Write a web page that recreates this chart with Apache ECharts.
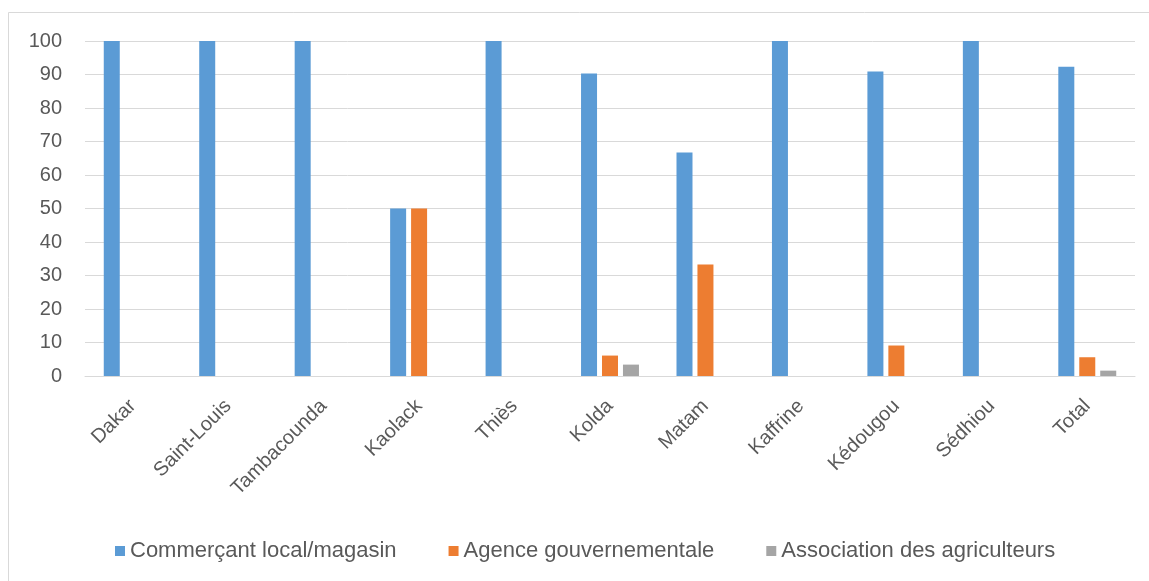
<!DOCTYPE html>
<html>
<head>
<meta charset="utf-8">
<script src="https://cdn.jsdelivr.net/npm/echarts@6/dist/echarts.min.js"></script>
<style>
html,body{margin:0;padding:0;background:#fff;}
#chart{width:1149px;height:581px;}
</style>
</head>
<body>
<div id="chart"></div>
<script>
const categories = ["Dakar","Saint-Louis","Tambacounda","Kaolack","Thiès","Kolda","Matam","Kaffrine","Kédougou","Sédhiou","Total"];
const commercant = [100,100,100,50,100,90.3,66.7,100,90.9,100,92.3];
const agence = [0,0,0,50,0,6.1,33.3,0,9.1,0,5.6];
const association = [0,0,0,0,0,3.4,0,0,0,0,1.6];
const yTicks = {min:0,max:100,interval:10};

const font = "'Liberation Sans', Arial, sans-serif";
const chart = echarts.init(document.getElementById('chart'), null, {renderer:'canvas'});
chart.setOption({
  animation:false,
  backgroundColor:'#ffffff',
  textStyle:{fontFamily:font},
  graphic:[{type:'rect',shape:{x:8.5,y:12.5,width:1200,height:700},style:{fill:null,stroke:'#d9d9d9',lineWidth:1},silent:true,z:-1}],
  grid:{left:85,right:14,top:41,bottom:205,containLabel:false},
  legend:{
    bottom:14,left:110,
    itemWidth:10,itemHeight:10,itemGap:52,
    icon:'rect',
    textStyle:{color:'#595959',fontSize:22,fontFamily:font},
    data:["Commerçant local/magasin","Agence gouvernementale","Association des agriculteurs"]
  },
  xAxis:{
    type:'category',data:categories,
    axisLine:{lineStyle:{color:'#d9d9d9',width:1}},
    axisTick:{show:false},
    axisLabel:{rotate:45,color:'#595959',fontSize:20,fontFamily:font,margin:27,interval:0}
  },
  yAxis:{
    type:'value',min:yTicks.min,max:yTicks.max,interval:yTicks.interval,
    axisLine:{show:false},axisTick:{show:false},
    splitLine:{lineStyle:{color:'#d9d9d9',width:1}},
    axisLabel:{color:'#595959',fontSize:20,fontFamily:font,margin:23}
  },
  series:[
    {name:"Commerçant local/magasin",type:'bar',data:commercant,barWidth:16,barGap:'31%',itemStyle:{color:'#5B9BD5'}},
    {name:"Agence gouvernementale",type:'bar',data:agence,barWidth:16,barGap:'31%',itemStyle:{color:'#ED7D31'}},
    {name:"Association des agriculteurs",type:'bar',data:association,barWidth:16,barGap:'31%',itemStyle:{color:'#A5A5A5'}}
  ]
});
</script>
</body>
</html>
